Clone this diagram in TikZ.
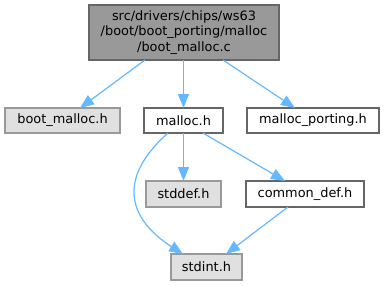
\documentclass[tikz,border=0pt]{standalone}
\usepackage{fontspec}
\setmainfont{DejaVu Sans}
\usetikzlibrary{arrows.meta}
\definecolor{edgeblue}{HTML}{63B8FF}
\definecolor{rootfill}{HTML}{999999}
\definecolor{darkborder}{HTML}{666666}
\definecolor{grayfill}{HTML}{E0E0E0}
\definecolor{grayborder}{HTML}{999999}
\begin{document}
\begin{tikzpicture}[x=1pt,y=-1pt,
  every node/.style={font=\fontsize{12.9}{15.5}\selectfont, inner sep=0pt, outer sep=0pt},
  rootbox/.style={draw=darkborder, fill=rootfill, line width=1.2pt, align=center},
  graybox/.style={draw=grayborder, fill=grayfill, line width=1.2pt},
  whitebox/.style={draw=darkborder, fill=white, line width=1.2pt},
  edge/.style={draw=edgeblue, line width=1.2pt, -{Triangle[length=14pt,width=11pt]}}]
\useasboundingbox (0,0) rectangle (384,285);
\node[rootbox, minimum width=190pt, minimum height=55pt] (root) at (184,32.5)
  {src/drivers/chips/ws63\\/boot/boot\_porting/malloc\\/boot\_malloc.c};
\node[graybox, minimum width=115pt, minimum height=25pt] (bm) at (62.5,120.5) {boot\_malloc.h};
\node[whitebox, minimum width=79pt, minimum height=25pt] (mh) at (183.5,120.5) {malloc.h};
\node[whitebox, minimum width=132pt, minimum height=25pt] (mp) at (313,120.5) {malloc\_porting.h};
\node[graybox, minimum width=75pt, minimum height=26pt] (sd) at (183.5,194) {stddef.h};
\node[whitebox, minimum width=118pt, minimum height=26pt] (cd) at (305,194) {common\_def.h};
\node[graybox, minimum width=71pt, minimum height=26pt] (si) at (206.5,267) {stdint.h};
\coordinate (r1) at (145,60);
\coordinate (r3) at (223,60);
\coordinate (bmt) at (80,108);
\coordinate (mpt) at (295,108);
\coordinate (m1) at (168,133);
\coordinate (m3) at (203,133);
\coordinate (cdt) at (285,181);
\coordinate (cdb) at (288,207);
\coordinate (si1) at (183,254);
\coordinate (si2) at (226,254);
\path[edge] (r1) -- (bmt);
\path[edge] (root.south -| mh) -- (mh.north);
\path[edge] (r3) -- (mpt);
\path[edge] (mh.south) -- (sd.north);
\path[edge] (m3) -- (cdt);
\path[edge] (m1) .. controls (115,180) and (130,220) .. (si1);
\path[edge] (cdb) -- (si2);
\end{tikzpicture}
\end{document}
